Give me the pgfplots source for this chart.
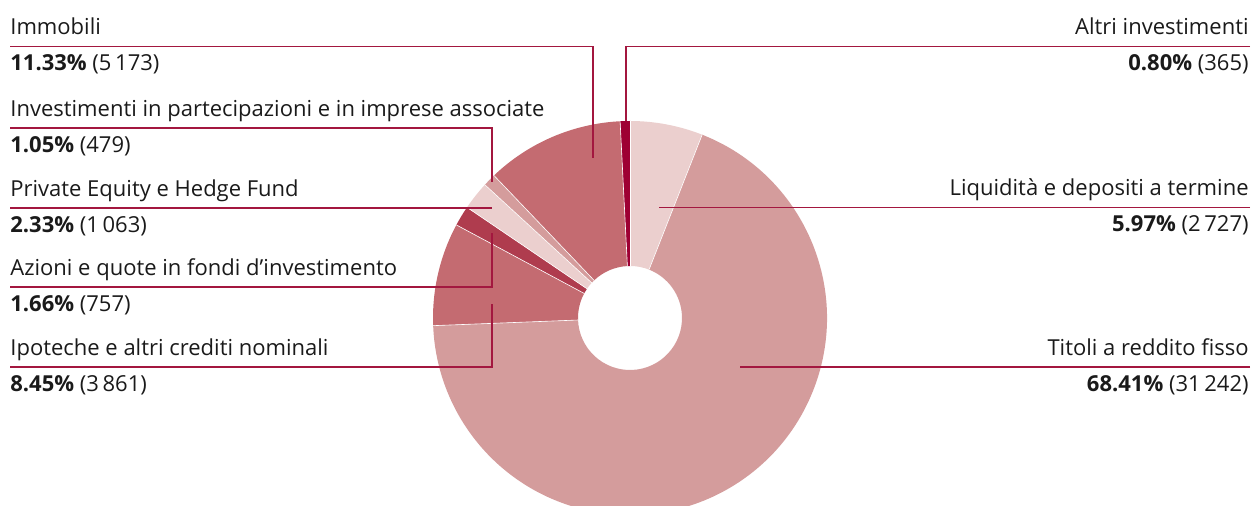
\documentclass[border=0pt]{standalone}
\usepackage{pgfplots}
\usepackage{pgfplotstable}
\pgfplotsset{compat=1.18}
\usepackage{fontspec}
\setmainfont{Open Sans}
\definecolor{c1}{HTML}{EBCFCE}
\definecolor{c2}{HTML}{D49C9C}
\definecolor{c3}{HTML}{C46B71}
\definecolor{c4}{HTML}{AF3C4E}
\definecolor{c5}{HTML}{9E0033}
\definecolor{ln}{HTML}{A3173F}
\definecolor{tx}{HTML}{1A1A1A}

\pgfplotstableread{
share value color
5.97 2727 c1
68.41 31242 c2
8.45 3861 c3
1.66 757 c4
2.33 1063 c1
1.05 479 c2
11.33 5173 c3
0.80 365 c5
}\slices
\pgfplotstablecreatecol[create col/expr accum={\pgfmathaccuma+\thisrow{share}}{0}]{cum}\slices

\begin{document}
\begin{tikzpicture}
\begin{axis}[scale only axis, width=626.5pt, height=253pt,
  xmin=0, xmax=1253, ymin=0, ymax=506, y dir=reverse, hide axis, clip=true]
\coordinate (SW) at (axis cs:0,506);
\coordinate (NE) at (axis cs:1253,0);
\coordinate (C) at (axis cs:630,318);
\pgfplotsinvokeforeach{0,...,7}{
 \pgfplotstablegetelem{#1}{cum}\of\slices
 \pgfmathsetmacro\aE{90-3.6*\pgfplotsretval}
 \pgfplotstablegetelem{#1}{share}\of\slices
 \pgfmathsetmacro\aS{\aE+3.6*\pgfplotsretval}
 \pgfplotstablegetelem{#1}{color}\of\slices
 \edef\temp{\noexpand\fill[\pgfplotsretval] ([shift={(\aS:98.5pt)}]C) arc[start angle=\aS, end angle=\aE, radius=98.5pt] -- ([shift={(\aE:26pt)}]C) arc[start angle=\aE, end angle=\aS, radius=26pt] -- cycle;}
 \temp
}
\pgfplotsinvokeforeach{0,...,7}{
 \pgfplotstablegetelem{#1}{cum}\of\slices
 \pgfmathsetmacro\aE{90-3.6*\pgfplotsretval}
 \edef\temp{\noexpand\draw[white, line width=0.3pt] ([shift={(\aE:26pt)}]C) -- ([shift={(\aE:98.5pt)}]C);}
 \temp
}
% leader lines
\begin{scope}[ln, line width=0.65pt]
\draw (axis cs:10,46.5) -- (axis cs:593,46.5) -- (axis cs:593,158);
\draw (axis cs:1250,46.5) -- (axis cs:626,46.5) -- (axis cs:626,121);
\draw (axis cs:10,128) -- (axis cs:492,128) -- (axis cs:492,182);
\draw (axis cs:10,208) -- (axis cs:492,208);
\draw (axis cs:10,287) -- (axis cs:492,287) -- (axis cs:492,233);
\draw (axis cs:10,367) -- (axis cs:492,367) -- (axis cs:492,304);
\draw (axis cs:1250,207.5) -- (axis cs:659,207.5);
\draw (axis cs:1250,367) -- (axis cs:740,367);
\end{scope}
% labels
\begin{scope}[every node/.style={inner sep=0pt, text=tx, font=\fontsize{11}{13}\selectfont}]
\node[anchor=base west] at (axis cs:10,35) {Immobili};
\node[anchor=base west] at (axis cs:10,71) {\textbf{11.33\%} (5\,173)};
\node[anchor=base west] at (axis cs:10,116.5) {Investimenti in partecipazioni e in imprese associate};
\node[anchor=base west] at (axis cs:10,152.5) {\textbf{1.05\%} (479)};
\node[anchor=base west] at (axis cs:10,196.5) {Private Equity e Hedge Fund};
\node[anchor=base west] at (axis cs:10,232.5) {\textbf{2.33\%} (1\,063)};
\node[anchor=base west] at (axis cs:10,275.5) {Azioni e quote in fondi d’investimento};
\node[anchor=base west] at (axis cs:10,311.5) {\textbf{1.66\%} (757)};
\node[anchor=base west] at (axis cs:10,355.5) {Ipoteche e altri crediti nominali};
\node[anchor=base west] at (axis cs:10,391.5) {\textbf{8.45\%} (3\,861)};
\node[anchor=base east] at (axis cs:1249,35) {Altri investimenti};
\node[anchor=base east] at (axis cs:1249,71) {\textbf{0.80\%} (365)};
\node[anchor=base east] at (axis cs:1249,196) {Liquidità e depositi a termine};
\node[anchor=base east] at (axis cs:1249,232) {\textbf{5.97\%} (2\,727)};
\node[anchor=base east] at (axis cs:1249,355.5) {Titoli a reddito fisso};
\node[anchor=base east] at (axis cs:1249,391.5) {\textbf{68.41\%} (31\,242)};
\end{scope}
\end{axis}
\pgfresetboundingbox
\path[use as bounding box] (SW) rectangle (NE);
\end{tikzpicture}
\end{document}
